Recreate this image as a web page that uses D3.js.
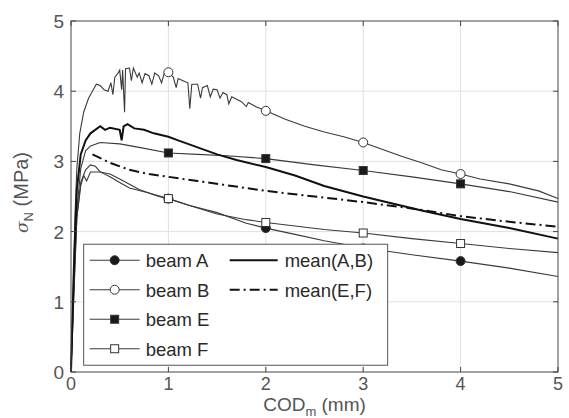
<!DOCTYPE html>
<html>
<head>
<meta charset="utf-8">
<script src="https://cdn.jsdelivr.net/npm/d3@7"></script>
<style>
  body { margin: 0; background: #fff; }
  text { font-family: "Liberation Sans", Arial, sans-serif; }
</style>
</head>
<body>
<div id="chart"></div>
<script>
// tick values
var xTicks = [0, 1, 2, 3, 4, 5];
var yTicks = [0, 1, 2, 3, 4, 5];

// curves: [COD_m (mm), sigma_N (MPa)]
var beamA = [[0,0],[0.03,1.2],[0.06,2.2],[0.1,2.7],[0.15,2.88],[0.2,2.95],[0.25,2.93],[0.3,2.85],[0.4,2.78],
  [0.5,2.7],[0.6,2.62],[0.8,2.55],[1.0,2.47],[1.2,2.38],[1.5,2.27],[1.8,2.12],[2.0,2.05],[2.3,1.96],
  [2.6,1.87],[2.8,1.82],[3.0,1.76],[3.25,1.72],[3.5,1.67],[4.0,1.58],[4.5,1.48],[5.0,1.36]];
var beamB = [[0,0],[0.02,1.0],[0.04,2.2],[0.06,2.9],[0.09,3.4],[0.13,3.7],[0.18,3.9],[0.22,4.0],[0.26,4.1],
  [0.3,4.08],[0.34,4.02],[0.38,4.0],[0.41,4.12],[0.43,3.95],[0.45,4.2],[0.48,4.25],[0.5,4.3],[0.52,4.02],
  [0.53,4.3],[0.55,3.7],[0.56,4.32],[0.6,4.33],[0.62,4.15],[0.64,4.33],[0.68,4.2],[0.7,4.26],[0.73,4.12],
  [0.76,4.25],[0.8,4.22],[0.83,4.1],[0.86,4.26],[0.9,4.22],[0.93,4.12],[0.96,4.27],[1.0,4.27],[1.05,4.2],
  [1.08,4.05],[1.1,4.18],[1.15,4.15],[1.2,4.12],[1.22,3.75],[1.24,4.1],[1.3,4.1],[1.33,3.9],[1.35,4.05],
  [1.4,4.08],[1.43,3.92],[1.46,4.03],[1.5,4.02],[1.53,3.9],[1.56,3.98],[1.6,3.95],[1.62,3.82],[1.65,3.92],
  [1.75,3.85],[1.8,3.78],[1.82,3.84],[1.9,3.78],[2.0,3.72],[2.2,3.6],[2.4,3.5],[2.6,3.42],[2.8,3.35],
  [3.0,3.27],[3.2,3.17],[3.4,3.07],[3.6,2.98],[3.8,2.88],[4.0,2.82],[4.2,2.75],[4.5,2.68],[4.8,2.58],[5.0,2.47]];
var beamE = [[0,0],[0.03,1.3],[0.06,2.3],[0.1,2.9],[0.15,3.15],[0.2,3.22],[0.3,3.27],[0.5,3.25],[0.7,3.2],
  [1.0,3.12],[1.3,3.1],[1.6,3.08],[2.0,3.04],[2.5,2.95],[3.0,2.87],[3.5,2.78],[4.0,2.68],[4.5,2.57],[5.0,2.42]];
var beamF = [[0,0],[0.03,1.1],[0.06,2.2],[0.1,2.65],[0.13,2.8],[0.16,2.72],[0.2,2.85],[0.3,2.85],[0.4,2.82],
  [0.5,2.75],[0.7,2.6],[0.9,2.5],[1.0,2.47],[1.2,2.38],[1.5,2.25],[1.8,2.17],[2.0,2.13],[2.3,2.08],
  [2.6,2.03],[3.0,1.98],[3.5,1.9],[4.0,1.83],[4.5,1.76],[5.0,1.7]];
var meanAB = [[0,0],[0.03,1.5],[0.06,2.6],[0.1,3.1],[0.15,3.3],[0.2,3.4],[0.3,3.5],[0.35,3.45],[0.4,3.48],
  [0.5,3.45],[0.52,3.3],[0.54,3.5],[0.58,3.53],[0.65,3.47],[0.75,3.45],[0.85,3.4],[1.0,3.35],[1.1,3.3],
  [1.2,3.25],[1.3,3.2],[1.5,3.1],[1.7,3.02],[2.0,2.92],[2.3,2.8],[2.6,2.65],[3.0,2.5],[3.3,2.4],
  [3.6,2.3],[4.0,2.18],[4.5,2.05],[5.0,1.9]];
var meanEF = [[0.22,3.1],[0.4,2.98],[0.6,2.88],[0.8,2.82],[1.0,2.78],[1.3,2.72],[1.6,2.66],[2.0,2.58],
  [2.5,2.5],[3.0,2.42],[3.5,2.33],[4.0,2.22],[4.5,2.14],[5.0,2.07]];

// marker positions
var markerX = [1, 2, 3, 4];

var W = 569, H = 418;
var margin = { top: 21, right: 11, bottom: 46, left: 71 };
var width = W - margin.left - margin.right,
  height = H - margin.top - margin.bottom;

var x = d3.scaleLinear().domain([0, 5]).range([0, width]);
var y = d3.scaleLinear().domain([0, 5]).range([height, 0]);

var svg = d3.select("#chart").append("svg")
  .attr("width", W).attr("height", H)
  .append("g")
  .attr("transform", "translate(" + margin.left + "," + margin.top + ")");

// grid
svg.append("g").selectAll("line").data(xTicks.slice(1, -1)).enter().append("line")
  .attr("x1", function(d) { return x(d); }).attr("x2", function(d) { return x(d); })
  .attr("y1", 0).attr("y2", height)
  .attr("stroke", "#e0e0e0").attr("stroke-width", 1);
svg.append("g").selectAll("line").data(yTicks.slice(1, -1)).enter().append("line")
  .attr("y1", function(d) { return y(d); }).attr("y2", function(d) { return y(d); })
  .attr("x1", 0).attr("x2", width)
  .attr("stroke", "#e0e0e0").attr("stroke-width", 1);

var line = d3.line()
  .x(function(d) { return x(d[0]); })
  .y(function(d) { return y(d[1]); });

function interp(data, xv) {
  for (var i = 1; i < data.length; i++) {
    if (data[i][0] >= xv) {
      var a = data[i - 1], b = data[i];
      var t = (xv - a[0]) / (b[0] - a[0]);
      return a[1] + t * (b[1] - a[1]);
    }
  }
  return data[data.length - 1][1];
}

var series = [
  { name: "beam A", data: beamA, marker: "circle", fill: "#1a1a1a" },
  { name: "beam B", data: beamB, marker: "circle", fill: "#fff" },
  { name: "beam E", data: beamE, marker: "square", fill: "#1a1a1a" },
  { name: "beam F", data: beamF, marker: "square", fill: "#fff" }
];

var lineCol = "#3a3a3a";

series.forEach(function(s) {
  svg.append("path").datum(s.data)
    .attr("d", line).attr("fill", "none")
    .attr("stroke", lineCol).attr("stroke-width", 1.1);
});

svg.append("path").datum(meanAB)
  .attr("d", line).attr("fill", "none")
  .attr("stroke", "#111").attr("stroke-width", 2);
svg.append("path").datum(meanEF)
  .attr("d", line).attr("fill", "none")
  .attr("stroke", "#111").attr("stroke-width", 2)
  .attr("stroke-dasharray", "10,4,2,4");

function drawMarker(g, type, fill, cx, cy) {
  if (type === "circle") {
    g.append("circle").attr("cx", cx).attr("cy", cy).attr("r", 4.5)
      .attr("fill", fill).attr("stroke", "#333").attr("stroke-width", 1);
  } else {
    g.append("rect").attr("x", cx - 4).attr("y", cy - 4).attr("width", 8).attr("height", 8)
      .attr("fill", fill).attr("stroke", "#333").attr("stroke-width", 1);
  }
}

series.forEach(function(s) {
  var g = svg.append("g");
  markerX.forEach(function(mx) {
    drawMarker(g, s.marker, s.fill, x(mx), y(interp(s.data, mx)));
  });
});

// box + ticks (MATLAB style, ticks inward on all sides)
svg.append("rect").attr("x", 0).attr("y", 0).attr("width", width).attr("height", height)
  .attr("fill", "none").attr("stroke", "#444").attr("stroke-width", 1);

var tickLen = 5;
var tickG = svg.append("g").attr("stroke", "#444");
xTicks.forEach(function(t) {
  tickG.append("line").attr("x1", x(t)).attr("x2", x(t)).attr("y1", height).attr("y2", height - tickLen);
  tickG.append("line").attr("x1", x(t)).attr("x2", x(t)).attr("y1", 0).attr("y2", tickLen);
});
yTicks.forEach(function(t) {
  tickG.append("line").attr("y1", y(t)).attr("y2", y(t)).attr("x1", 0).attr("x2", tickLen);
  tickG.append("line").attr("y1", y(t)).attr("y2", y(t)).attr("x1", width).attr("x2", width - tickLen);
});

// tick labels
svg.append("g").selectAll("text").data(xTicks).enter().append("text")
  .attr("x", function(d) { return x(d); }).attr("y", height + 18)
  .attr("text-anchor", "middle").attr("font-size", 18).attr("fill", "#555")
  .text(function(d) { return d; });
svg.append("g").selectAll("text").data(yTicks).enter().append("text")
  .attr("x", -7).attr("y", function(d) { return y(d) + 7; })
  .attr("text-anchor", "end").attr("font-size", 19).attr("fill", "#555")
  .text(function(d) { return d; });

// axis labels
var xl = svg.append("text").attr("x", width / 2).attr("y", height + 39)
  .attr("text-anchor", "middle").attr("font-size", 19).attr("fill", "#555");
xl.append("tspan").text("COD");
xl.append("tspan").attr("font-size", 13).attr("dy", 5).text("m");
xl.append("tspan").attr("dy", -5).text(" (mm)");

var yl = svg.append("text")
  .attr("transform", "translate(-43," + (height / 2 - 4) + ") rotate(-90)")
  .attr("text-anchor", "middle").attr("font-size", 20).attr("fill", "#555");
yl.append("tspan").attr("font-family", "DejaVu Serif").attr("font-style", "italic").attr("font-size", 17).text("σ");
yl.append("tspan").attr("font-size", 13).attr("dy", 5).text("N");
yl.append("tspan").attr("dy", -5).text(" (MPa)");

// legend
var leg = svg.append("g").attr("transform", "translate(" + x(0.13) + "," + y(1.82) + ")");
leg.append("rect").attr("width", 304).attr("height", 121)
  .attr("fill", "#fff").attr("stroke", "#555").attr("stroke-width", 1);

series.forEach(function(s, i) {
  var ly = 16 + i * 29.5;
  leg.append("line").attr("x1", 6).attr("x2", 56).attr("y1", ly).attr("y2", ly)
    .attr("stroke", lineCol).attr("stroke-width", 1.1);
  drawMarker(leg, s.marker, s.fill, 31, ly);
  leg.append("text").attr("x", 62).attr("y", ly + 7).attr("font-size", 18.5).attr("fill", "#2a2a2a").text(s.name);
});

var means = [
  { name: "mean(A,B)", dash: null },
  { name: "mean(E,F)", dash: "10,4,2,4" }
];
means.forEach(function(m, i) {
  var ly = 16 + i * 29.5;
  var l = leg.append("line").attr("x1", 146).attr("x2", 194).attr("y1", ly).attr("y2", ly)
    .attr("stroke", "#111").attr("stroke-width", 2);
  if (m.dash) l.attr("stroke-dasharray", m.dash);
  leg.append("text").attr("x", 201).attr("y", ly + 7).attr("font-size", 18.5).attr("fill", "#2a2a2a").text(m.name);
});
</script>
</body>
</html>
